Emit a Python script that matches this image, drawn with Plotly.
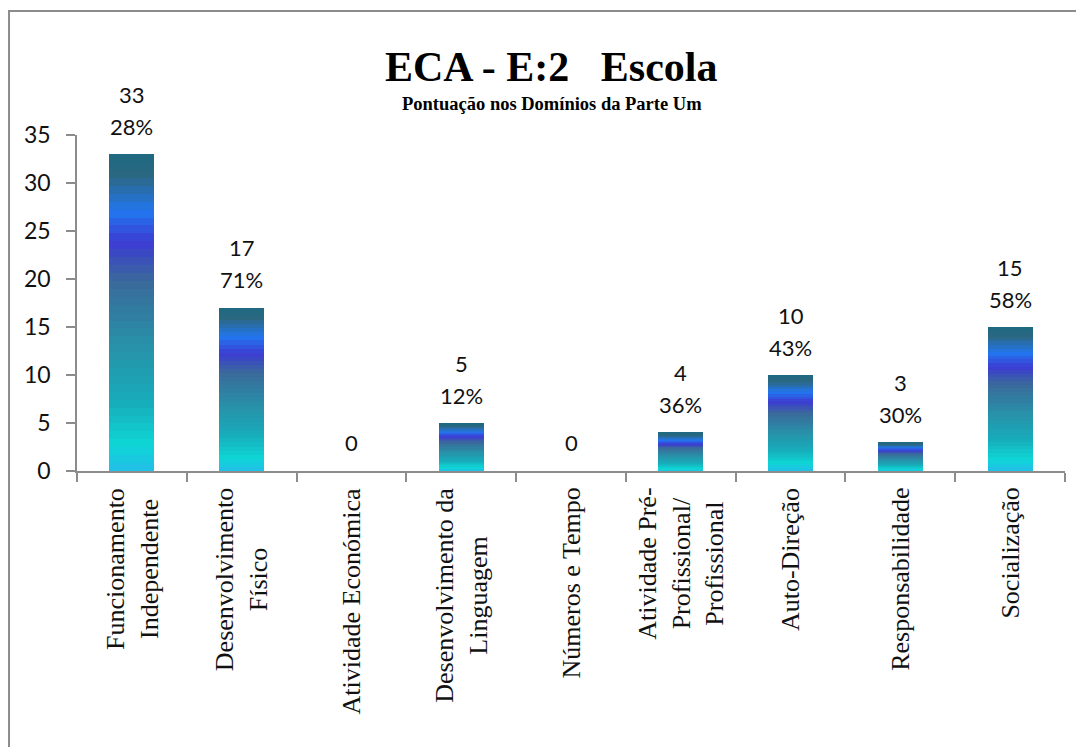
import plotly.graph_objects as go

categories = [
    "Funcionamento<br>Independente",
    "Desenvolvimento<br>Físico",
    "Atividade Económica",
    "Desenvolvimento da<br>Linguagem",
    "Números e Tempo",
    "Atividade Pré-<br>Profissional/<br>Profissional",
    "Auto-Direção",
    "Responsabilidade",
    "Socialização",
]
scores = [33, 17, 0, 5, 0, 4, 10, 3, 15]
percents = ["28%", "71%", "", "12%", "", "36%", "43%", "30%", "58%"]

# gradient stops (fraction from top of bar -> colour)
stops = [
    (0.00, (30, 105, 128)),
    (0.07, (44, 104, 130)),
    (0.18, (33, 118, 240)),
    (0.28, (60, 60, 210)),
    (0.40, (58, 106, 154)),
    (0.60, (40, 144, 168)),
    (0.78, (24, 172, 186)),
    (0.92, (14, 214, 214)),
    (1.00, (34, 190, 232)),
]

def grad(f):
    for (f0, c0), (f1, c1) in zip(stops[:-1], stops[1:]):
        if f0 <= f <= f1:
            t = (f - f0) / (f1 - f0) if f1 > f0 else 0
            return "rgb(%d,%d,%d)" % tuple(round(a + (b - a) * t) for a, b in zip(c0, c1))
    return "rgb(%d,%d,%d)" % stops[-1][1]

K = 40
fig = go.Figure()
for k in range(K):
    frac_from_top = 1 - (k + 0.5) / K
    fig.add_trace(go.Bar(
        x=categories,
        y=[v / K for v in scores],
        marker=dict(color=grad(frac_from_top), line=dict(width=0)),
        showlegend=False,
        hoverinfo="skip",
    ))

label_font = dict(family="Lato, Open Sans, sans-serif", size=22, color="#111")
serif = "Liberation Serif, Times New Roman, serif"
annotations = []
for c, v, p in zip(categories, scores, percents):
    if p:
        annotations.append(dict(x=c, y=v, text=str(v), showarrow=False, yanchor="middle",
                                yshift=60, font=label_font))
        annotations.append(dict(x=c, y=v, text=p, showarrow=False, yanchor="middle",
                                yshift=28, font=label_font))
    else:
        annotations.append(dict(x=c, y=v, text=str(v), showarrow=False, yanchor="middle",
                                yshift=29, font=label_font))
    # category label (rotated, centred lines)
    annotations.append(dict(x=c, y=0, text=c, showarrow=False, textangle=-90,
                            xanchor="center", yanchor="top", yshift=-15, align="center",
                            font=dict(family=serif, size=26, color="#111")))

annotations.append(dict(xref="paper", yref="paper", x=0.4805, y=1.0, yanchor="bottom", yshift=43,
                        text="<b>ECA - E:2\u00a0\u00a0\u00a0Escola</b>", showarrow=False,
                        font=dict(family=serif, size=42, color="#000")))
annotations.append(dict(xref="paper", yref="paper", x=0.4805, y=1.0, yanchor="bottom", yshift=19,
                        text="<b>Pontuação nos Domínios da Parte Um</b>", showarrow=False,
                        font=dict(family=serif, size=18.5, color="#000")))

fig.update_layout(
    width=1084, height=747,
    barmode="stack", bargap=0.59,
    paper_bgcolor="white", plot_bgcolor="white",
    margin=dict(l=69, r=27, t=127, b=284),
    annotations=annotations,
    shapes=[dict(type="rect", xref="paper", yref="paper",
                 x0=-0.0688, x1=1.2, y0=-2, y1=1.369,
                 line=dict(color="#8c8c8c", width=2), fillcolor="rgba(0,0,0,0)", layer="below")],
)
fig.update_yaxes(range=[0, 35], dtick=5, showgrid=False, zeroline=False,
                 showline=True, linecolor="#8c8c8c", linewidth=1.5,
                 ticks="outside", ticklen=9, tickcolor="#8c8c8c", tickwidth=1.5,
                 ticklabelstandoff=11,
                 tickfont=dict(family="Lato, Open Sans, sans-serif", size=23, color="#111"))
fig.update_xaxes(showgrid=False, showline=True, linecolor="#8c8c8c", linewidth=1.5,
                 ticks="outside", tickson="boundaries", ticklen=9, tickcolor="#8c8c8c", tickwidth=1.5,
                 showticklabels=False)

fig.write_html("out.html")
